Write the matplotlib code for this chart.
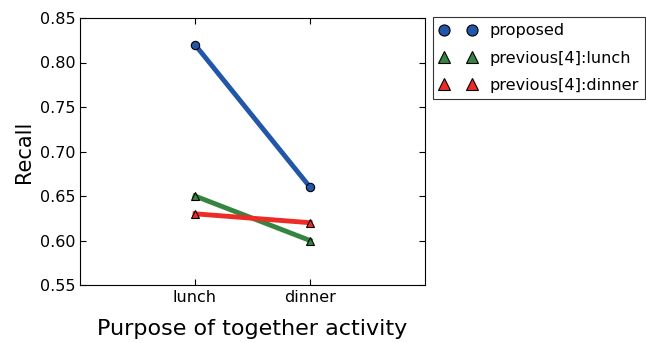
import matplotlib
matplotlib.use('Agg')
import matplotlib.pyplot as plt
from matplotlib.lines import Line2D

categories = ['lunch', 'dinner']
proposed = [0.82, 0.66]
prev_lunch = [0.65, 0.60]
prev_dinner = [0.63, 0.62]

series = [
    ('proposed', proposed, '#2156a8', 'o'),
    ('previous[4]:lunch', prev_lunch, '#35843f', '^'),
    ('previous[4]:dinner', prev_dinner, '#ee2c27', '^'),
]

fig = plt.figure(figsize=(6.46, 3.43), dpi=100)
ax = fig.add_axes([80 / 646, 1 - 285 / 343, 345 / 646, 267 / 343])

xs = [1, 2]
handles = []
for label, vals, color, marker in series:
    ax.plot(xs, vals, color=color, lw=3.5, zorder=2)
    ax.plot(xs, vals, ls='none', marker=marker, ms=6, mfc=color, mec='black', mew=0.8, zorder=3)
    handles.append(Line2D([], [], ls='none', marker=marker, ms=8, mfc=color, mec='black', mew=0.8))

ax.set_xlim(0, 3)
ax.set_ylim(0.55, 0.85)
ax.set_xticks(xs)
ax.set_xticklabels(categories)
ax.set_yticks([0.55, 0.60, 0.65, 0.70, 0.75, 0.80, 0.85])
ax.tick_params(direction='in', top=True, right=True, labelsize=11.5, length=4)
ax.set_ylabel('Recall', fontsize=15)
ax.set_xlabel('Purpose of together activity', fontsize=16, labelpad=10)

leg = fig.legend(handles, [s[0] for s in series], loc='upper left',
                 bbox_to_anchor=(433 / 646, 1 - 17 / 343), numpoints=2,
                 fontsize=11.6, frameon=True, fancybox=False, borderaxespad=0,
                 handlelength=2.3, handletextpad=0.8, labelspacing=0.75, borderpad=0.4)
leg.get_frame().set_edgecolor('black')
leg.get_frame().set_linewidth(0.8)

fig.savefig('out.png', dpi=100)
